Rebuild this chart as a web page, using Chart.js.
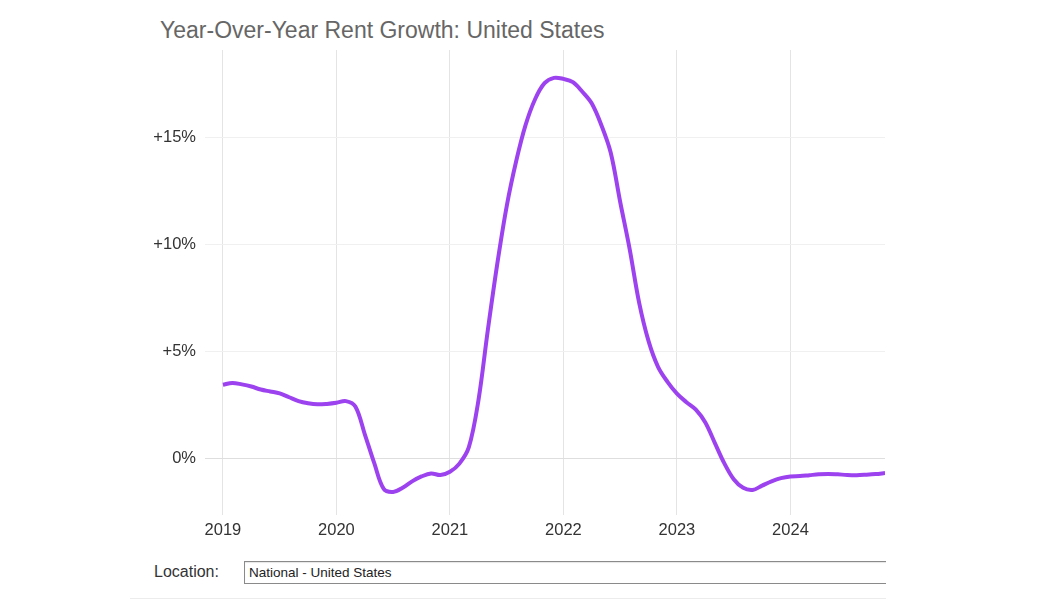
<!DOCTYPE html>
<html>
<head>
<meta charset="utf-8">
<script src="https://cdn.jsdelivr.net/npm/chart.js@4"></script>
<style>
    body { margin: 0; background: #fff; font-family: "Liberation Sans", Arial, sans-serif; }
    #title { position: absolute; left: 160px; top: 16px; font-size: 23px; line-height: 28px; color: #666; white-space: nowrap; }
    #wrap { position: absolute; left: 110px; top: 0; width: 780px; height: 545px; }
    #locLabel { position: absolute; left: 154px; top: 561px; font-size: 16px; color: #333; line-height: 22px; }
    #locBox { position: absolute; left: 244px; top: 561px; width: 660px; height: 23px; border: 1px solid #8a8a8a;
              box-sizing: border-box; font-size: 13.5px; color: #222; line-height: 21px; padding-left: 4px;
              box-shadow: inset 0 1px 1px rgba(0,0,0,0.1); }
    #clipRight { position: absolute; left: 886px; top: 555px; width: 164px; height: 40px; background: #fff; }
    #rule { position: absolute; left: 130px; top: 598px; width: 756px; border-top: 1px solid #ececec; }
</style>
</head>
<body>
<div id="title">Year-Over-Year Rent Growth: United States</div>
<div id="wrap"><canvas id="rentChart"></canvas></div>
<div id="locLabel">Location:</div>
<div id="locBox">National - United States</div>
<div id="clipRight"></div>
<div id="rule"></div>
<script>
// monthly year-over-year rent growth, Jan 2019 .. Nov 2024
const startYear = 2019;
const yearTicks = [2019, 2020, 2021, 2022, 2023, 2024];
const pctTicks = [0, 5, 10, 15];
const rentGrowth = [
    3.46, 3.55, 3.48, 3.38, 3.24, 3.15, 3.06, 2.88, 2.70, 2.60, 2.55, 2.57,
    2.62, 2.70, 2.45, 1.15, -0.20, -1.40, -1.54, -1.35, -1.05, -0.82, -0.68, -0.75,
    -0.60, -0.22, 0.55, 2.70, 6.00, 9.10, 11.8, 13.9, 15.6, 16.8, 17.55, 17.8,
    17.75, 17.6, 17.15, 16.6, 15.6, 14.3, 12.0, 9.8, 7.3, 5.5, 4.3, 3.6,
    3.05, 2.65, 2.30, 1.70, 0.75, -0.20, -0.95, -1.35, -1.45, -1.25, -1.05, -0.90,
    -0.82, -0.80, -0.76, -0.72, -0.70, -0.72, -0.75, -0.76, -0.74, -0.71, -0.66
];

const points = rentGrowth.map((v, i) => ({ x: startYear + i / 12, y: v }));
const tickFont = { family: '"Liberation Sans", Arial, sans-serif', size: 16.5 };

var ctx = document.getElementById('rentChart').getContext('2d');
var rentChart = new Chart(ctx, {
    type: 'line',
    data: {
        datasets: [{
            label: 'National - United States',
            data: points,
            borderColor: '#9d42ef',
            borderWidth: 4,
            pointRadius: 0,
            tension: 0.35,
            fill: false
        }]
    },
    options: {
        responsive: true,
        maintainAspectRatio: false,
        animation: false,
        layout: { padding: { left: 0, right: 5, top: 50, bottom: 0 } },
        plugins: {
            legend: { display: false },
            tooltip: { enabled: false }
        },
        scales: {
            x: {
                type: 'linear',
                min: 2018.842,
                max: 2024.833,
                afterBuildTicks: axis => { axis.ticks = yearTicks.map(v => ({ value: v })); },
                afterFit: axis => { axis.height = 30; },
                border: { display: false },
                grid: { color: '#e4e4e4', drawTicks: false },
                ticks: {
                    padding: 6,
                    color: '#333',
                    font: tickFont,
                    callback: v => String(v)
                }
            },
            y: {
                min: -2.62,
                max: 19.1,
                afterBuildTicks: axis => { axis.ticks = pctTicks.map(v => ({ value: v })); },
                afterFit: axis => { axis.width = 95; },
                border: { display: false },
                grid: {
                    drawTicks: false,
                    color: ctx => ctx.tick && ctx.tick.value === 0 ? '#dedede' : '#f0f0f0'
                },
                ticks: {
                    padding: 9,
                    color: '#333',
                    font: tickFont,
                    callback: v => (v > 0 ? '+' : '') + v + '%'
                }
            }
        }
    }
});
</script>
</body>
</html>
